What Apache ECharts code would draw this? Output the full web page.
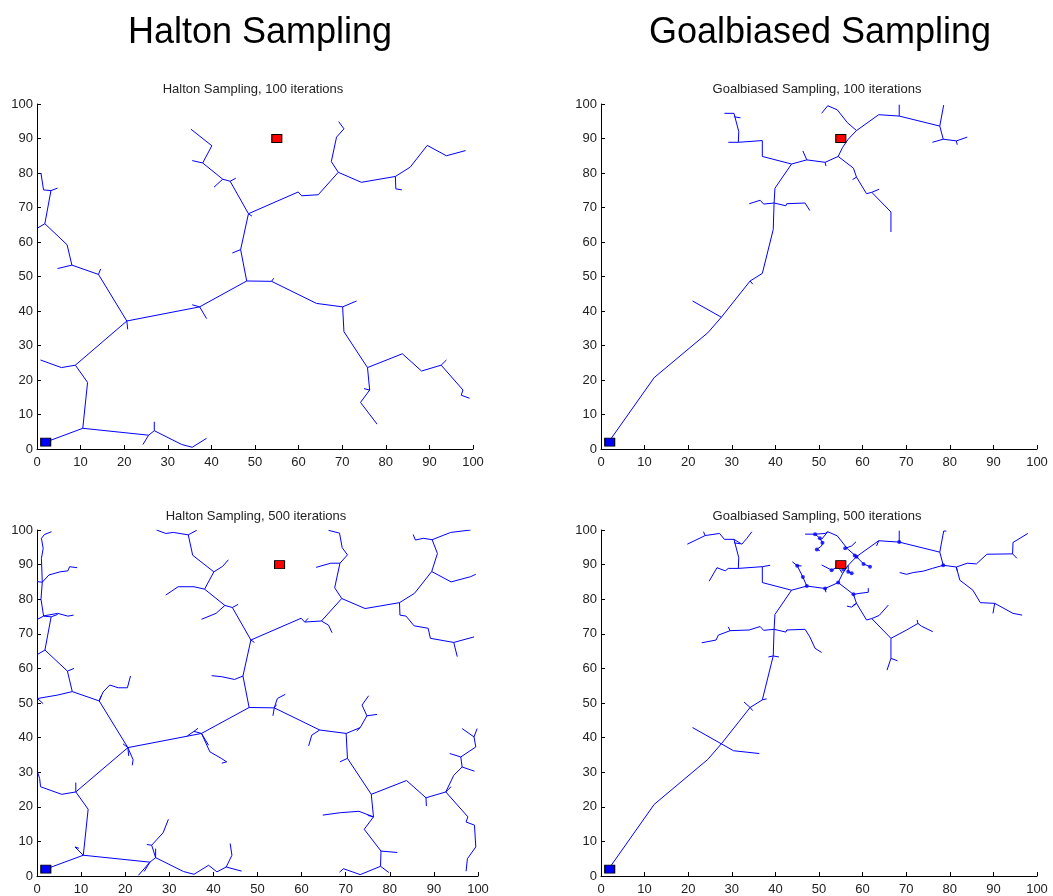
<!DOCTYPE html>
<html>
<head>
<meta charset="utf-8">
<script src="https://cdn.jsdelivr.net/npm/echarts/dist/echarts.min.js"></script>
<style>
html, body { margin: 0; padding: 0; background: #fff; }
#main { width: 1053px; height: 896px; }
</style>
</head>
<body>
<div id="main"></div>
<script>
// start / goal
var startPoint = [2, 2];
var goalPoint = [55, 90];

// Halton tree after 100 iterations (each entry is one polyline)
var haltonTree100 = [
    [[2, 2], [10.5, 6], [25.6, 4], [26.9, 5.3], [33.2, 1.3], [35.6, 0.5], [38.9, 3.1]],
    [[25.6, 4], [24.3, 1.3]],
    [[26.9, 5.3], [26.9, 7.9]],
    [[10.5, 6], [11.6, 19.3], [8.8, 24.3], [5.6, 23.6], [0.8, 25.8]],
    [[8.8, 24.3], [20.6, 37.1], [37.3, 41.2], [48.1, 48.7], [53.8, 48.6], [64.1, 42.2], [70.1, 41.2], [73.3, 42.9]],
    [[20.6, 37.1], [20.8, 34.7]],
    [[20.6, 37.1], [14.1, 50.6], [8.0, 53.3], [6.9, 59.2], [1.8, 65.3], [3.2, 74.9], [1.5, 75.1], [0.9, 80]],
    [[14.1, 50.6], [14.6, 52.2]],
    [[8.0, 53.3], [4.7, 52.3]],
    [[1.8, 65.3], [0.2, 64.1]],
    [[3.2, 74.9], [4.7, 75.6]],
    [[37.3, 41.2], [38.9, 37.8]],
    [[37.3, 41.2], [35.6, 41.8]],
    [[53.8, 48.6], [54.3, 49.5]],
    [[70.1, 41.2], [70.4, 34.0], [75.8, 23.6], [76.3, 17.1], [74.2, 13.5], [78, 7.2]],
    [[76.3, 17.1], [75, 17.5]],
    [[75.8, 23.6], [83.8, 27.6], [88.2, 22.6], [92.7, 24.3], [97.7, 17.1], [97.3, 15.6], [99.2, 14.7]],
    [[92.7, 24.3], [93.9, 25.8]],
    [[48.1, 48.7], [46.7, 57.8], [48.5, 68.2], [59.9, 74.5], [60.7, 73.4], [64.5, 73.7], [69.1, 80.2], [67.5, 83.3], [68.7, 90.4], [70.4, 92.8], [69.2, 94.9]],
    [[46.7, 57.8], [44.8, 56.8]],
    [[48.5, 68.2], [49.3, 67.5]],
    [[69.1, 80.2], [74.4, 77.3], [82.2, 79], [85.6, 81.7], [89.5, 88], [93.9, 85], [98.3, 86.5]],
    [[82.2, 79], [82.3, 75.4], [83.7, 75.1]],
    [[48.5, 68.2], [44.3, 77.6], [42.6, 78.2], [38, 82.9], [40.1, 87.9], [35.3, 92.7]],
    [[44.3, 77.6], [45.6, 78.5]],
    [[42.6, 78.2], [40.6, 75.9]],
    [[38, 82.9], [35.6, 83.6]]
];

// extra branches grown between 100 and 500 iterations (Halton)
var haltonExtra500 = [
    [[0.9, 80], [1.2, 84.9], [1, 91.8], [1.4, 94.7], [1, 97.6], [1.7, 98.7], [3.3, 99.5]],
    [[1.2, 84.9], [0, 85.1]],
    [[1.2, 84.9], [2.7, 87], [5.2, 87.9], [7, 88.2], [7.4, 89.4], [9.1, 89.1]],
    [[1.6, 75.2], [4.7, 75.9], [7, 75.1], [8.3, 75.4]],
    [[0.1, 74.2], [1.5, 75.1]],
    [[4.7, 52.3], [0.1, 51.3], [1.4, 49.8]],
    [[6.9, 59.2], [8.4, 60]],
    [[14.1, 50.6], [15, 53.2], [16.5, 55.2], [18.4, 54.4], [20.5, 54.4], [21.2, 57.8]],
    [[20.6, 37.1], [21.8, 33.6], [21.6, 32]],
    [[19.5, 38.2], [20.6, 37.1]],
    [[0.8, 25.8], [0.6, 28.2], [0.1, 30.1]],
    [[8.8, 24.3], [8.8, 27]],
    [[10.5, 6], [8.6, 8.4], [9.5, 8.0]],
    [[25.6, 4], [23, 0.2]],
    [[26.9, 5.3], [26, 8.9], [28.6, 12.5], [29.8, 16.4]],
    [[26, 8.9], [24.9, 9.1]],
    [[38.9, 3.1], [40.8, 1.2], [42.9, 2.6], [44.2, 6], [43.8, 9.4]],
    [[42.9, 2.6], [46.4, 1.4]],
    [[37.3, 41.2], [39.2, 35.9], [41.9, 33.9], [43, 33], [41.9, 32.6]],
    [[35.6, 41.8], [34.1, 40.5]],
    [[35.6, 41.8], [36.5, 42.7]],
    [[44.8, 56.8], [41.9, 57.6], [39.6, 57.9]],
    [[53.8, 48.6], [54.5, 51.3], [56.3, 52.5]],
    [[53.8, 48.6], [53.5, 46.3]],
    [[64.1, 42.2], [62.3, 40.7], [61.6, 37.6]],
    [[73.3, 42.9], [74.8, 46.3], [73.7, 49.4], [75.2, 52.1]],
    [[74.8, 46.3], [77.1, 46.7]],
    [[70.4, 34], [68.7, 33]],
    [[76.3, 17.1], [73, 18.7], [68.8, 18.3], [64.8, 17.6]],
    [[78, 7.2], [77.9, 2.8], [73.3, 0.4], [69.5, 2.1], [68.6, 1.1]],
    [[77.9, 2.8], [79.8, 1]],
    [[78, 7.2], [81.7, 6.8]],
    [[88.2, 22.6], [88.3, 20.2]],
    [[92.7, 24.3], [94.5, 29.1], [96.4, 31.5], [96.1, 34.4], [99.5, 37.3], [99.1, 40.2], [99.8, 42.6]],
    [[96.4, 31.5], [99.2, 30.3]],
    [[96.1, 34.4], [93.6, 35.4]],
    [[99.1, 40.2], [96.4, 42.6]],
    [[99.2, 14.7], [99.5, 8.4], [97.6, 5], [97.3, 1.4]],
    [[35.6, 83.6], [32, 83.6], [29.2, 81.2]],
    [[40.1, 87.9], [42.1, 89.5], [43.4, 91.4]],
    [[35.3, 92.7], [34.3, 98.6], [36.2, 99.9]],
    [[34.3, 98.6], [30.9, 99.3], [29.2, 99], [27.1, 100]],
    [[40.6, 75.9], [37.3, 74.2]],
    [[64.5, 73.7], [66.1, 72.5], [66.9, 70.3]],
    [[68.7, 90.4], [66.6, 90.4], [63.3, 89.2]],
    [[69.2, 94.9], [68.6, 99.1], [66.1, 99.9]],
    [[83.7, 75.1], [85.5, 72.3], [88.7, 71.6], [89.2, 68.7], [94.5, 67.5], [95.3, 63.4]],
    [[94.5, 67.5], [99.1, 69.1]],
    [[89.5, 88], [90.8, 93.2], [89.6, 97.2], [87.6, 97.6], [85.8, 97.1], [85.3, 98.7]],
    [[89.6, 97.2], [93.8, 99.3], [98.3, 100]],
    [[98.3, 86.5], [99.5, 87.2]],
    [[73.3, 42.9], [72.5, 41.9]],
    [[60.7, 73.4], [61.5, 74.5]]
];

// goal-biased tree after 100 iterations
var goalTree100 = [
    [[1.8, 2.1], [12.2, 20.7], [24.5, 33.7], [27.6, 38.2], [34.2, 48.7], [37, 50.9], [39.5, 63.6], [39.7, 71.3], [39.9, 75.6], [43.7, 82.6], [47.2, 83.8], [51.4, 83.1], [54.4, 84.8], [55.4, 87.4], [56.7, 89.8], [58.6, 92.3], [63.7, 96.9], [68.4, 96.5], [77.7, 93.6], [78.6, 99.7]],
    [[68.4, 96.5], [68.4, 99.8]],
    [[77.7, 93.6], [78.5, 89.8], [81.5, 89.3], [84, 90.4]],
    [[78.5, 89.8], [76, 88.9]],
    [[81.5, 89.3], [81.7, 88.2]],
    [[27.6, 38.2], [21, 42.9]],
    [[34.2, 48.7], [34.8, 47.8]],
    [[39.7, 71.3], [37.3, 71], [36.5, 72.1], [34, 71.1]],
    [[39.7, 71.3], [42.4, 70.5], [42.6, 71.1], [46.8, 71.3], [47.9, 69.1]],
    [[47.2, 83.8], [46.3, 86.4]],
    [[51.4, 83.1], [51.6, 82]],
    [[54.4, 84.8], [57.9, 81.4], [58.6, 78.8], [60.9, 74], [62.1, 74.4], [66.5, 68.7], [66.5, 62.9]],
    [[62.1, 74.4], [63.8, 75.3]],
    [[58.6, 78.8], [57.7, 78.1]],
    [[58.6, 92.3], [56.5, 94.6], [54.2, 98.3], [52, 99.5], [50.6, 97.3]],
    [[43.7, 82.6], [37, 84.8], [37, 89.4], [31.5, 88.9], [29.2, 88.9]],
    [[31.5, 88.9], [31.6, 92], [30.5, 97.3], [28.3, 97.3]],
    [[30.5, 96.3], [32, 96]]
];

// extra goal-biased branches up to 500 iterations
var goalExtra500 = [
    [[27.6, 38.2], [30.4, 36.2], [36.3, 35.4]],
    [[34, 71.1], [29.6, 70.9], [26.9, 69.6], [26.4, 68.2], [23.1, 67.4]],
    [[29.6, 70.9], [29.2, 72]],
    [[47.9, 69.1], [49.1, 65.8], [50.6, 64.6]],
    [[29.2, 88.9], [28.5, 88.2], [26.6, 89.1], [24.8, 85.2]],
    [[37, 89.4], [38.8, 89.8]],
    [[28.3, 97.3], [27.2, 99], [23.9, 98.4], [23.5, 99.5]],
    [[23.9, 98.4], [19.8, 95.9]],
    [[30.5, 97.3], [32.3, 95.9], [33.4, 97.5], [34.6, 99.5]],
    [[46.3, 86.4], [45, 89.7], [43.9, 90.8]],
    [[45, 89.7], [46, 89.6]],
    [[78.6, 99.7], [79.2, 99.7]],
    [[84, 90.4], [86.1, 90.2], [88.5, 93], [94.4, 93.1], [95.4, 91.8]],
    [[94.4, 93.1], [94.5, 96.4], [97.9, 99]],
    [[76, 88.9], [73.9, 88.1], [71.6, 87.7], [70.1, 87.2], [68.5, 87.7]],
    [[81.5, 89.3], [82.3, 85.5], [85.3, 82.6], [87, 79], [90.3, 78.8], [94.5, 75.9], [96.6, 75.4]],
    [[90.3, 78.8], [89.9, 75.9]],
    [[63.7, 96.9], [63.2, 95.4]],
    [[66.5, 62.9], [65.6, 59.5]],
    [[66.5, 62.9], [68, 62.2]],
    [[66.5, 68.7], [70.1, 71.1], [72.7, 73], [73.5, 72.2], [76.1, 70.6]],
    [[72.7, 73], [72.5, 74]],
    [[63.8, 75.3], [65.9, 78.3]],
    [[57.9, 81.4], [59.4, 81.7], [61.3, 82], [61.3, 83.2]],
    [[58.6, 78.8], [57.5, 77.7], [56.4, 78]],
    [[52, 99.5], [51.4, 99], [49.1, 98.8], [46.8, 98.8]],
    [[49.1, 98.8], [50.2, 97.6], [50.8, 96.3], [50.6, 95.4], [49.5, 94.4], [50.2, 94]],
    [[56, 94.7], [57.5, 95.4], [58.5, 96.6]],
    [[58.6, 92.3], [60.2, 90.2], [61.7, 89.4]],
    [[55.4, 87.4], [54.4, 89.4], [52.9, 88.4], [50.6, 89.9]],
    [[56.7, 89.8], [56.7, 87.9], [57.5, 87.5]],
    [[39.5, 63.6], [38.4, 63.3]],
    [[39.5, 63.6], [40.8, 63.3]],
    [[37, 50.9], [38, 51.2]],
    [[34.2, 48.7], [32.8, 50.3]]
];

// little node dots around the goal (goal-biased, 500 iterations)
var goalDots500 = [
    [50.2, 97.6], [50.8, 96.3], [49.5, 94.4], [52.9, 88.4], [54.4, 89.4], [56.7, 87.9],
    [57.5, 87.5], [58.6, 92.3], [60.2, 90.2], [61.7, 89.4], [54.4, 84.8], [57.9, 81.4],
    [46.3, 86.4], [49.1, 98.8], [68.4, 96.5], [78.5, 89.8], [56, 94.7], [45, 89.7],
    [58.2, 92.6], [55.6, 88.6], [47.2, 83.8], [51.4, 83.1]
];

var axisTicks = [0, 10, 20, 30, 40, 50, 60, 70, 80, 90, 100];

var FONT = '"Liberation Sans", Arial, sans-serif';

var myChart = echarts.init(document.getElementById("main"));

var grids = [
    { left: 37, top: 104, width: 436, height: 345 },
    { left: 601, top: 104, width: 436, height: 345 },
    { left: 37, top: 530, width: 441, height: 346 },
    { left: 601, top: 530, width: 436, height: 346 }
];

function makeAxis(i, isX) {
    return {
        type: "value",
        gridIndex: i,
        min: axisTicks[0],
        max: axisTicks[axisTicks.length - 1],
        interval: 10,
        axisLine: { show: true, onZero: false, lineStyle: { color: "#000", width: 1 } },
        axisTick: { show: true, inside: true, length: 4, lineStyle: { color: "#000" } },
        splitLine: { show: false },
        axisLabel: {
            color: "#222",
            fontSize: 13,
            fontFamily: FONT,
            margin: isX ? 7 : 4,
            showMinLabel: true,
            showMaxLabel: true
        }
    };
}

function treeSeries(i, paths) {
    return {
        type: "lines",
        coordinateSystem: "cartesian2d",
        xAxisIndex: i,
        yAxisIndex: i,
        polyline: true,
        silent: true,
        lineStyle: { color: "#0000ff", width: 1, opacity: 1 },
        data: paths.map(function(p) { return { coords: p }; }),
        z: 2
    };
}

function markSeries(i, point, color) {
    return {
        type: "scatter",
        xAxisIndex: i,
        yAxisIndex: i,
        symbol: "rect",
        symbolSize: [10, 8],
        itemStyle: { color: color, borderColor: "#000", borderWidth: 1, opacity: 1 },
        data: [point],
        silent: true,
        z: 5
    };
}

var subtitles = [
    { text: "Halton Sampling, 100 iterations", x: 253, y: 89.5 },
    { text: "Goalbiased Sampling, 100 iterations", x: 817, y: 89.5 },
    { text: "Halton Sampling, 500 iterations", x: 256, y: 516 },
    { text: "Goalbiased Sampling, 500 iterations", x: 817, y: 516 }
];

var graphics = [
    { type: "text", x: 260, y: 33, style: { text: "Halton Sampling", font: "36px " + FONT, fill: "#000", align: "center", verticalAlign: "middle", textAlign: "center", textVerticalAlign: "middle" } },
    { type: "text", x: 820, y: 33, style: { text: "Goalbiased Sampling", font: "36px " + FONT, fill: "#000", align: "center", verticalAlign: "middle", textAlign: "center", textVerticalAlign: "middle" } }
];
subtitles.forEach(function(s) {
    graphics.push({
        type: "text", x: s.x, y: s.y,
        style: { text: s.text, font: "13px " + FONT, fill: "#222", align: "center", verticalAlign: "middle", textAlign: "center", textVerticalAlign: "middle" }
    });
});

var option = {
    animation: false,
    backgroundColor: "#fff",
    grid: grids,
    xAxis: [0, 1, 2, 3].map(function(i) { return makeAxis(i, true); }),
    yAxis: [0, 1, 2, 3].map(function(i) { return makeAxis(i, false); }),
    graphic: graphics,
    series: [
        treeSeries(0, haltonTree100),
        treeSeries(1, goalTree100),
        treeSeries(2, haltonTree100.concat(haltonExtra500)),
        treeSeries(3, goalTree100.concat(goalExtra500)),
        {
            type: "scatter",
            xAxisIndex: 3,
            yAxisIndex: 3,
            symbol: "circle",
            symbolSize: 4,
            itemStyle: { color: "#0000ff" },
            data: goalDots500,
            silent: true,
            z: 3
        },
        markSeries(0, startPoint, "#0000ff"), markSeries(0, goalPoint, "#ff0000"),
        markSeries(1, startPoint, "#0000ff"), markSeries(1, goalPoint, "#ff0000"),
        markSeries(2, startPoint, "#0000ff"), markSeries(2, goalPoint, "#ff0000"),
        markSeries(3, startPoint, "#0000ff"), markSeries(3, goalPoint, "#ff0000")
    ]
};

myChart.setOption(option);
window.addEventListener("resize", function() {
    myChart.resize();
});
</script>
</body>
</html>
